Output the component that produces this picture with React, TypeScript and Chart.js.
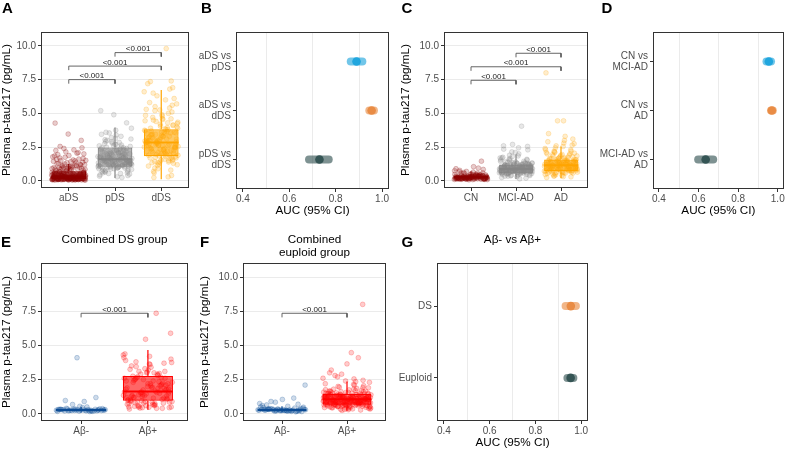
import React, { useEffect, useRef } from "react";
import { Chart, registerables } from "chart.js";
Chart.register(...registerables);

const FONT = "'Liberation Sans', Arial, Helvetica, sans-serif";

// ---------- Panel A: DS groups ----------
const dsCategories = ["aDS", "pDS", "dDS"];
const aDSValues = [0.12,0.31,0.08,0.22,0.45,0.18,0.27,0.09,0.36,0.14,0.52,0.2,0.11,0.29,0.41,0.16,0.24,0.07,0.33,0.62,0.19,0.13,0.38,0.25,0.1,0.47,0.21,0.15,0.3,0.56,0.17,0.26,0.09,0.35,0.12,0.43,0.23,0.68,0.18,0.28,0.06,0.39,0.14,0.5,0.2,0.11,0.32,0.74,0.16,0.24,0.1,0.44,0.19,0.27,0.13,0.58,0.22,0.08,0.34,0.15,0.48,0.25,0.12,0.37,0.79,0.17,0.21,0.09,0.3,0.64,0.14,0.4,0.26,0.11,0.55,0.19,0.32,0.07,0.23,0.46,0.16,0.71,0.28,0.13,0.36,0.2,0.1,0.53,0.24,0.18,0.42,0.15,0.66,0.29,0.12,0.35,0.22,0.09,0.6,0.17,0.21,0.14,0.33,0.1,0.27,0.46,0.18,0.08,0.39,0.24,0.6,0.15,0.31,0.12,0.51,0.2,0.28,0.07,0.42,0.17,0.7,0.23,0.13,0.35,0.11,0.57,0.26,0.19,0.09,0.44,0.16,0.3,0.65,0.22,0.12,0.37,0.25,0.14,0.49,0.1,0.32,0.2,0.76,0.18,0.27,0.06,0.4,0.15,0.54,0.24,0.11,0.34,0.19,0.62,0.29,0.13,0.45,0.21,0.09,0.36,0.85,0.92,1.05,0.88,1.12,0.97,1.2,0.83,1.3,1.02,0.9,1.45,1.15,0.95,1.38,1.08,1.6,0.87,1.25,1.52,1.0,1.7,1.18,0.93,1.85,1.33,1.1,2.0,1.42,1.95,1.62,2.15,1.78,2.3,1.5,2.45,1.88,2.25,2.05,2.4,0.86,1.07,0.94,1.22,1.35,0.99,1.48,1.13,1.66,0.89,1.28,2.1,1.75,0.91,1.55,2.55,3.0,3.47,4.28];
const pDSValues = [1.6,1.2,2.1,0.8,1.45,2.6,1.05,1.85,0.55,1.3,2.3,1.7,0.95,2.9,1.15,1.55,2.0,0.4,1.38,2.45,1.9,1.1,3.1,1.62,0.7,2.2,1.25,1.75,3.3,1.0,1.5,2.7,0.6,1.35,2.05,1.8,1.08,3.6,1.48,0.9,2.35,1.22,1.68,2.55,0.3,1.42,1.95,2.8,1.12,1.58,3.0,0.85,1.28,2.15,1.72,1.02,3.9,1.52,0.65,2.4,1.18,1.82,2.65,1.4,0.5,2.25,1.65,1.07,3.2,1.33,1.9,2.5,0.75,1.56,3.45,1.14,2.02,1.27,0.98,2.75,1.6,1.46,0.35,2.12,1.78,1.2,3.75,1.5,2.3,0.88,1.66,1.04,2.92,1.36,4.9,5.2,0.25,1.74,2.0,1.15,1.55,1.25,1.95,0.9,2.35,1.4,1.1,2.7,0.7,1.7,2.15,1.3,1.0,3.05,1.6,1.85,0.45,2.5,1.2,1.45,3.4,0.8,2.0,1.65,1.05,2.85,1.35,0.6,2.25,1.75,1.15,3.55,1.5,0.95,2.1,1.8,1.25,2.6,0.55,1.9,1.38,3.15,1.02,2.45,1.62,0.85,2.05,1.48,4.3,1.12];
const dDSValues = [2.8,1.9,3.5,2.2,4.1,1.4,3.0,2.6,5.2,1.7,3.3,2.45,4.6,0.9,2.95,3.8,2.1,6.1,1.55,3.15,2.7,4.4,1.2,3.6,2.35,5.6,1.85,2.88,3.95,0.6,2.5,4.8,3.25,1.65,2.75,6.6,2.05,3.45,1.3,4.2,2.9,5.0,1.75,3.1,2.3,7.35,0.4,2.65,3.7,1.95,4.5,2.55,3.35,1.1,5.4,2.85,3.9,1.6,2.4,6.9,3.05,2.15,4.3,1.45,3.55,2.6,5.8,0.8,2.98,3.75,1.8,4.7,2.25,3.2,7.2,1.5,2.7,4.0,2.0,3.4,5.1,1.25,2.82,3.65,0.25,2.45,4.9,3.0,1.9,6.3,2.55,3.85,1.35,4.15,2.35,3.5,0.3,5.5,2.9,3.3,1.7,7.4,2.1,4.45,9.8,6.5,3.6,2.0,2.6,3.3,1.95,4.25,2.4,3.7,1.5,2.95,5.3,2.2,3.05,1.8,4.6,2.75,3.55,1.15,2.5,6.0,3.2,2.05,4.05,2.85,1.4,3.45,5.7,2.3,3.9,1.7,2.65,4.85,3.1,0.7,2.45,3.6,1.9,6.8,2.9,4.35,2.15,3.4,1.6,5.25,2.55,3.8,0.95,2.7,4.55,3.0,2.25,1.35];
const dsQ1 = [0.12, 1.04, 1.83];
const dsMedian = [0.33, 1.6, 2.85];
const dsQ3 = [0.72, 2.48, 3.82];
const dsWhiskerLow = [0.03, 0.22, 0.13];
const dsWhiskerHigh = [1.25, 3.96, 6.73];
const dsBrackets = [[1, 2, 7.5], [1, 3, 8.5], [2, 3, 9.5]];

// ---------- Panel C: euploid groups ----------
const euCategories = ["CN", "MCI-AD", "AD"];
const cnValues = [0.25,0.18,0.32,0.12,0.4,0.22,0.28,0.15,0.35,0.2,0.1,0.3,0.45,0.24,0.17,0.38,0.27,0.13,0.5,0.21,0.33,0.16,0.26,0.42,0.19,0.29,0.08,0.36,0.23,0.55,0.14,0.31,0.2,0.47,0.25,0.11,0.34,0.18,0.6,0.28,0.22,0.39,0.15,0.3,0.65,0.24,0.12,0.37,0.19,0.44,0.27,0.16,0.52,0.21,0.33,0.7,0.26,0.13,0.41,0.23,0.3,0.17,0.58,0.25,0.2,0.35,0.78,0.29,0.14,0.48,0.22,0.32,0.85,0.18,0.27,0.95,0.24,0.36,1.05,0.2,1.46,0.31,0.9,0.26,0.62,0.2,0.27,0.15,0.33,0.23,0.1,0.29,0.18,0.4,0.25,0.14,0.31,0.21,0.45,0.26,0.12,0.35,0.19,0.28,0.5,0.22,0.16,0.3,0.24,0.38,0.13,0.27,0.2,0.56,0.32,0.17,0.25,0.42,0.23,0.11,0.29,0.68,0.21,0.34,0.75];
const mciValues = [0.9,0.7,1.1,0.55,1.3,0.85,0.62,1.0,1.5,0.78,0.45,1.2,0.95,0.68,1.7,0.88,0.35,1.05,1.4,0.75,0.58,1.15,0.92,2.0,0.8,0.5,1.25,0.98,0.65,1.6,0.87,0.3,1.08,1.35,0.72,0.6,1.18,0.94,2.3,0.82,0.48,1.28,1.02,0.7,1.85,0.9,0.2,1.12,1.45,0.76,0.56,1.22,0.97,2.6,0.84,0.42,1.32,1.0,0.66,1.55,0.89,0.25,1.06,1.9,0.74,0.63,1.16,0.93,2.7,0.81,0.52,1.38,0.99,0.69,1.75,0.86,0.38,1.1,2.45,0.79,0.61,1.24,0.96,4.05,0.83,0.46,1.3,1.04,0.71,2.15,0.91,0.15,1.14,2.55,0.77,0.57,1.2,1.65,0.95,0.6,1.15,0.8,1.35,0.7,1.05,0.5,1.25,0.88,0.65,1.45,0.92,0.55,1.1,0.76,1.6,0.98,0.62,1.2,0.84,0.4,1.3,1.0,0.72,1.8,0.9,0.58,1.14,0.8,2.1,0.96,0.68,1.26,0.86,0.45,1.4,1.02,0.74,1.55,0.94,0.6,1.18,0.82,2.35,1.06,0.7,1.32,0.88,0.52,1.22,0.78,1.7,1.0,0.64,1.12,0.9,0.35,1.28,0.98];
const adValues = [1.2,0.9,1.5,0.7,1.8,1.05,0.8,1.35,2.1,0.95,0.6,1.6,1.15,0.85,2.4,1.25,0.5,1.4,1.9,1.0,0.75,1.55,1.1,2.8,1.3,0.65,1.7,1.18,0.88,2.2,1.45,0.4,1.28,2.0,0.98,0.72,1.62,1.12,3.1,1.22,0.55,1.75,1.38,0.82,2.55,1.08,0.3,1.48,2.3,0.92,0.78,1.58,1.16,3.5,1.26,0.62,1.85,1.02,0.86,2.65,1.33,0.25,1.52,2.15,0.96,0.68,1.66,1.14,4.45,1.24,0.58,1.95,1.42,0.9,2.9,1.06,0.45,1.56,4.45,1.0,0.74,1.68,8.0,1.2,0.35,2.05,1.3,1.1,0.85,1.45,0.65,1.7,1.0,0.78,1.3,2.0,0.9,0.55,1.55,1.2,0.8,2.3,1.15,0.48,1.35,1.85,0.95,0.7,1.5,1.05,2.6,1.25,0.6,1.65,1.12,0.85,2.1,1.4,0.38,1.22,1.95,0.92,0.75,1.6,1.08,3.3,1.18,0.58,1.8,1.32,0.82,2.45,1.02,0.32,1.42,2.2,0.88,0.72,1.52,1.14,2.75,1.28,0.66,1.9,0.98,0.8,3.0];
const euQ1 = [0.17, 0.55, 0.72];
const euMedian = [0.27, 0.88, 1.16];
const euQ3 = [0.38, 1.22, 1.58];
const euWhiskerLow = [0.05, 0.15, 0.2];
const euWhiskerHigh = [0.7, 1.96, 2.55];
const euBrackets = [[1, 2, 7.45], [1, 3, 8.45], [2, 3, 9.45]];

// ---------- Panels E, F: amyloid status ----------
const abCategories = ["Aβ-", "Aβ+"];
const dsAbNegValues = [0.25,0.3,0.22,0.35,0.28,0.2,0.32,0.26,0.24,0.38,0.29,0.21,0.33,0.27,0.18,0.31,0.23,0.36,0.26,0.3,0.19,0.34,0.28,0.25,0.4,0.22,0.29,0.32,0.17,0.27,0.24,0.45,0.3,0.21,0.35,0.26,0.5,0.23,0.28,0.55,0.33,0.2,0.68,0.27,0.9,0.97,1.19,4.1,0.31,0.25];
const dsAbPosValues = [1.6,0.9,2.4,1.2,3.1,0.6,1.9,2.8,1.4,0.45,2.2,3.5,1.05,1.75,2.6,0.75,3.8,1.3,2.0,0.5,2.95,1.55,4.0,0.85,2.3,1.15,3.3,1.8,0.4,2.7,1.45,3.65,0.95,2.1,1.25,4.3,0.65,2.5,1.7,3.0,1.0,2.85,0.55,1.95,3.4,1.35,2.25,0.8,4.38,1.65,2.65,1.1,3.2,0.35,2.05,1.5,3.75,0.7,2.45,1.85,5.45,1.2,2.9,0.5,1.6,3.6,0.9,2.15,1.4,4.1,0.6,2.55,1.78,3.05,1.02,2.35,0.42,5.89,1.9,2.75,0.78,1.32,3.9,7.35,0.88,2.2,0.48,3.25,1.7,0.95,2.3,1.15,0.55,2.6,1.45,0.7,1.85,3.1,0.85,2.05,1.3,0.4,2.5,1.6,0.65,3.45,1.05,2.2,0.75,1.5,2.9,0.5,1.95,1.2,3.7,0.9,2.4,1.55,0.6,1.8,4.2,1.0,2.65,0.45,1.35,3.0,0.8,2.1];
const dsAbQ1 = [0.22, 0.95];
const dsAbMedian = [0.28, 1.63];
const dsAbQ3 = [0.34, 2.77];
const dsAbWhiskerLow = [0.1, 0.29];
const dsAbWhiskerHigh = [0.5, 4.67];
const dsAbBrackets = [[1, 2, 7.35]];

const euAbNegValues = [0.25,0.3,0.2,0.35,0.28,0.22,0.32,0.18,0.27,0.4,0.24,0.3,0.15,0.33,0.26,0.21,0.37,0.29,0.23,0.45,0.27,0.19,0.31,0.25,0.34,0.2,0.28,0.5,0.24,0.36,0.17,0.3,0.26,0.42,0.22,0.29,0.55,0.33,0.21,0.27,0.6,0.24,0.31,0.48,0.26,0.65,0.2,0.35,0.75,0.28,0.9,0.38,1.05,0.3,1.15,0.85,2.1,0.23,0.32,0.7];
const euAbPosValues = [1.0,0.8,1.3,0.6,1.6,0.9,1.15,0.7,2.0,1.05,0.5,1.4,0.85,1.2,0.65,1.8,0.95,1.1,0.4,1.5,0.75,1.25,2.3,0.88,1.02,0.55,1.35,0.72,1.7,0.98,1.18,0.3,1.45,0.82,1.08,2.6,0.68,1.28,0.92,1.55,0.58,1.12,0.78,1.9,1.0,0.45,1.38,0.86,1.22,2.1,0.62,1.05,0.94,1.65,0.7,1.3,0.35,1.48,0.8,2.45,1.15,0.9,1.42,0.52,1.0,1.75,0.76,1.24,0.25,1.58,0.96,2.8,1.1,0.66,1.33,0.84,1.95,1.04,0.48,1.52,0.74,1.2,2.2,0.9,1.36,0.6,1.08,3.0,0.82,1.62,0.42,1.26,0.98,2.05,0.7,1.14,1.85,0.56,1.44,0.88,3.2,1.0,0.64,1.3,2.55,0.8,1.12,3.65,0.94,4.1,1.4,0.5,4.47,1.06,8.0,0.72,1.5,2.35,0.86,1.18,0.38,1.68,0.96,2.9,0.92,1.22,0.68,1.45,0.58,1.05,0.82,1.32,0.4,1.16,0.99,1.7,0.62,1.27,0.86,1.53,0.47,1.09,0.77,1.37,0.33,1.19,0.93,1.8,0.66,1.01,0.84,1.41,0.54,1.13,0.73,1.61,0.28,1.23,0.97,2.15,0.69,1.06,0.87,1.47,0.59,1.17,0.79,1.29,0.44,1.03,0.91,1.76,0.63,1.34,0.81,1.56,0.51,1.11,0.75,1.39,0.36,1.21,0.95,2.4,0.67,1.07,0.89,1.49,0.57,1.15,0.71,1.26,0.46,1.0,0.83,1.66,0.61,1.31,0.78,1.43,0.53,1.09,0.74,1.92,0.32,1.2,0.96,2.7,0.6,1.04,0.85,1.5,0.55,1.17];
const euAbQ1 = [0.21, 0.66];
const euAbMedian = [0.27, 1.07];
const euAbQ3 = [0.34, 1.44];
const euAbWhiskerLow = [0.1, 0.24];
const euAbWhiskerHigh = [0.55, 2.36];
const euAbBrackets = [[1, 2, 7.35]];

const pLabel = "<0.001";
const ptauTicks = [0, 2.5, 5, 7.5, 10];
const ptauTickLabels = ["0.0", "2.5", "5.0", "7.5", "10.0"];

// ---------- Panels B, D, G: AUC ----------
const dsComparisons = [["aDS vs", "pDS"], ["aDS vs", "dDS"], ["pDS vs", "dDS"]];
const dsAuc = [0.89, 0.955, 0.73];
const dsAucLow = [0.865, 0.945, 0.685];
const dsAucHigh = [0.915, 0.965, 0.77];

const euComparisons = [["CN vs", "MCI-AD"], ["CN vs", "AD"], ["MCI-AD vs", "AD"]];
const euAuc = [0.955, 0.97, 0.636];
const euAucLow = [0.943, 0.966, 0.598];
const euAucHigh = [0.966, 0.975, 0.674];

const abComparisons = ["DS", "Euploid"];
const abAuc = [0.955, 0.954];
const abAucLow = [0.932, 0.94];
const abAucHigh = [0.977, 0.966];

const aucTicks = [0.4, 0.6, 0.8, 1.0];
const aucTickLabels = ["0.4", "0.6", "0.8", "1.0"];
const aucMinorGrid = [0.5, 0.7, 0.9];

// ---------- styles ----------
const C_DARKRED = "#8B0000";
const C_GRAY = "#858585";
const C_ORANGE = "#FFA500";
const C_BLUE = "#0A4A94";
const C_RED = "#FF0000";
const F_BLUE = "#1AA3DC";
const F_ORANGE = "#E8893F";
const F_DARK = "#2F4F4F";
const TICK_COL = "#4D4D4D";
const FRAME_COL = "#333333";
const GRID_COL = "#EBEBEB";

const rgba = (hex: string, a: number) => {
  const n = parseInt(hex.slice(1), 16);
  return `rgba(${(n >> 16) & 255},${(n >> 8) & 255},${n & 255},${a})`;
};
// deterministic horizontal jitter (layout only)
const jit = (i: number) => ((i * 0.6180339887 + 0.37) % 1) * 2 - 1;

function makePlugin(opts: { minor?: number[]; texts?: { x: number; y: number; t: string }[] }) {
  return {
    id: "decor",
    beforeDatasetsDraw(chart: any) {
      if (!opts.minor) return;
      const { ctx, chartArea } = chart;
      const xs = chart.scales.x;
      ctx.save();
      ctx.strokeStyle = GRID_COL;
      ctx.lineWidth = 1;
      for (const v of opts.minor) {
        const px = Math.round(xs.getPixelForValue(v)) + 0.5;
        ctx.beginPath();
        ctx.moveTo(px, chartArea.top);
        ctx.lineTo(px, chartArea.bottom);
        ctx.stroke();
      }
      ctx.restore();
    },
    afterDatasetsDraw(chart: any) {
      const { ctx, chartArea } = chart;
      ctx.save();
      if (opts.texts) {
        ctx.fillStyle = "#222";
        ctx.font = `8px ${FONT}`;
        ctx.textAlign = "center";
        ctx.textBaseline = "alphabetic";
        for (const t of opts.texts) {
          ctx.fillText(t.t, chart.scales.x.getPixelForValue(t.x), chart.scales.y.getPixelForValue(t.y) - 1.3);
        }
      }
      ctx.strokeStyle = FRAME_COL;
      ctx.lineWidth = 1;
      const l = Math.round(chartArea.left), tp = Math.round(chartArea.top);
      const r = Math.round(chartArea.right), b = Math.round(chartArea.bottom);
      ctx.strokeRect(l + 0.5, tp + 0.5, r - l - 1, b - tp - 1);
      ctx.restore();
    },
  };
}

type Lay = { l: number; t: number; r: number; b: number; yW: number; xH: number };

const tickFont = { family: FONT, size: 10 };
const titleFont = { family: FONT, size: 11.7 };

function boxConfig(
  labels: string[], groups: number[][], colors: string[],
  q1: number[], med: number[], q3: number[], lo: number[], hi: number[],
  brackets: number[][], lay: Lay
): any {
  const datasets: any[] = [];
  groups.forEach((vals, g) => {
    datasets.push({
      type: "scatter", order: 10,
      data: vals.map((v, i) => ({ x: g + 1 + jit(i) * 0.37, y: v })),
      pointRadius: 2.4, pointBorderWidth: 0.7,
      backgroundColor: rgba(colors[g], 0.2), borderColor: rgba(colors[g], 0.32),
    });
  });
  datasets.push({
    type: "bar", order: 5,
    data: q1.map((q, i) => ({ x: i + 1, y: [q, q3[i]] })),
    backgroundColor: colors.map((c) => rgba(c, 0.6)),
    borderColor: colors, borderWidth: 1.2, borderSkipped: false,
    barPercentage: 0.75, categoryPercentage: 1,
  });
  const line = (pts: any[], col: string, w: number) => ({
    type: "scatter", order: 1, showLine: true, data: pts,
    borderColor: col, borderWidth: w, pointRadius: 0, backgroundColor: col,
  });
  med.forEach((m, i) => {
    datasets.push(line([{ x: i + 1 - 0.375, y: m }, { x: i + 1 + 0.375, y: m }], colors[i], 2));
    datasets.push(line([{ x: i + 1, y: q3[i] }, { x: i + 1, y: hi[i] }], colors[i], 1.2));
    datasets.push(line([{ x: i + 1, y: lo[i] }, { x: i + 1, y: q1[i] }], colors[i], 1.2));
  });
  brackets.forEach(([a, b, lev]) => {
    datasets.push(line([{ x: a, y: lev - 0.3 }, { x: a, y: lev }, { x: b, y: lev }, { x: b, y: lev - 0.3 }], "#555", 0.9));
  });
  const texts = brackets.map(([a, b, lev]) => ({ x: (a + b) / 2, y: lev, t: pLabel }));
  return {
    type: "scatter",
    data: { datasets },
    plugins: [makePlugin({ texts })],
    options: {
      responsive: false, animation: false, events: [], devicePixelRatio: 1,
      layout: { padding: { left: lay.l, top: lay.t, right: lay.r, bottom: lay.b } },
      plugins: { legend: { display: false }, tooltip: { enabled: false } },
      scales: {
        x: {
          type: "linear", min: 0.4, max: labels.length + 0.6, offset: false,
          afterBuildTicks: (s: any) => { s.ticks = labels.map((_, i) => ({ value: i + 1 })); },
          afterFit: (s: any) => { s.height = lay.xH; },
          ticks: { callback: (v: number) => labels[Math.round(v) - 1], color: TICK_COL, font: tickFont, padding: 1, autoSkip: false, maxRotation: 0 },
          grid: { drawOnChartArea: false, drawTicks: true, tickLength: 3, tickColor: FRAME_COL, tickWidth: 1, offset: false },
          border: { display: false },
        },
        y: {
          type: "linear", min: -0.525, max: 11.025,
          afterBuildTicks: (s: any) => { s.ticks = ptauTicks.map((v) => ({ value: v })); },
          afterFit: (s: any) => { s.width = lay.yW; },
          ticks: { callback: (v: number) => ptauTickLabels[ptauTicks.indexOf(v)], color: TICK_COL, font: tickFont, padding: 2 },
          grid: { color: GRID_COL, lineWidth: 1, drawTicks: true, tickLength: 3, tickColor: FRAME_COL, tickWidth: 1 },
          border: { display: false },
          title: { display: true, text: "Plasma p-tau217 (pg/mL)", color: "#000", font: titleFont, padding: 0 },
        },
      },
    },
  };
}

function forestConfig(
  labels: (string | string[])[], auc: number[], low: number[], high: number[], colors: string[], lay: Lay
): any {
  const datasets: any[] = [];
  auc.forEach((a, i) => {
    datasets.push({
      type: "scatter", order: 2, showLine: true,
      data: [{ x: low[i], y: i + 1 }, { x: high[i], y: i + 1 }],
      borderColor: rgba(colors[i], 0.62), borderWidth: 8, borderCapStyle: "round", pointRadius: 0,
    });
    datasets.push({
      type: "scatter", order: 1,
      data: [{ x: a, y: i + 1 }],
      pointRadius: 4.3, pointBorderWidth: 0, backgroundColor: rgba(colors[i], 0.92),
    });
  });
  return {
    type: "scatter",
    data: { datasets },
    plugins: [makePlugin({ minor: aucMinorGrid })],
    options: {
      responsive: false, animation: false, events: [], devicePixelRatio: 1,
      layout: { padding: { left: lay.l, top: lay.t, right: lay.r, bottom: lay.b } },
      plugins: { legend: { display: false }, tooltip: { enabled: false } },
      scales: {
        x: {
          type: "linear", min: 0.37, max: 1.03,
          afterBuildTicks: (s: any) => { s.ticks = aucTicks.map((v) => ({ value: v })); },
          afterFit: (s: any) => { s.height = lay.xH; },
          ticks: { callback: (v: number) => aucTickLabels[aucTicks.indexOf(v)], color: TICK_COL, font: tickFont, padding: 1, autoSkip: false, maxRotation: 0 },
          grid: { drawOnChartArea: false, drawTicks: true, tickLength: 3, tickColor: FRAME_COL, tickWidth: 1 },
          border: { display: false },
          title: { display: true, text: "AUC (95% CI)", color: "#000", font: titleFont, padding: 0 },
        },
        y: {
          type: "linear", min: 0.4, max: labels.length + 0.6, reverse: true,
          afterBuildTicks: (s: any) => { s.ticks = labels.map((_, i) => ({ value: i + 1 })); },
          afterFit: (s: any) => { s.width = lay.yW; },
          ticks: { callback: (v: number) => labels[Math.round(v) - 1], color: TICK_COL, font: { family: FONT, size: 10, lineHeight: 1.1 }, padding: 2, autoSkip: false },
          grid: { drawOnChartArea: false, drawTicks: true, tickLength: 3, tickColor: FRAME_COL, tickWidth: 1 },
          border: { display: false },
        },
      },
    },
  };
}

function Panel({ x, y, w, h, make }: { x: number; y: number; w: number; h: number; make: () => any }) {
  const ref = useRef<HTMLCanvasElement>(null);
  useEffect(() => {
    const chart = new Chart(ref.current as HTMLCanvasElement, make());
    return () => chart.destroy();
  }, []);
  return (
    <div style={{ position: "absolute", left: x, top: y, width: w, height: h }}>
      <canvas ref={ref} width={w} height={h} style={{ width: w, height: h, display: "block" }} />
    </div>
  );
}

const letterStyle = (x: number, y: number): React.CSSProperties => ({
  position: "absolute", left: x, top: y, fontFamily: FONT, fontWeight: 700, fontSize: 15, lineHeight: "15px", color: "#000",
});
const titleStyle = (x: number, w: number): React.CSSProperties => ({
  position: "absolute", left: x, top: 232, width: w, textAlign: "center", fontFamily: FONT, fontSize: 11.7, lineHeight: "13.4px", color: "#000",
});

export default function App() {
  return (
    <div style={{ position: "absolute", left: 0, top: 0, width: 788, height: 452, background: "#fff", overflow: "hidden" }}>
      <Panel x={0} y={0} w={195} h={225} make={() => boxConfig(dsCategories, [aDSValues, pDSValues, dDSValues], [C_DARKRED, C_GRAY, C_ORANGE], dsQ1, dsMedian, dsQ3, dsWhiskerLow, dsWhiskerHigh, dsBrackets, { l: 0, t: 32, r: 6, b: 17, yW: 41, xH: 20 })} />
      <Panel x={195} y={0} w={200} h={225} make={() => forestConfig(dsComparisons, dsAuc, dsAucLow, dsAucHigh, [F_BLUE, F_ORANGE, F_DARK], { l: 0, t: 32, r: 6, b: 7, yW: 41, xH: 29 })} />
      <Panel x={390} y={0} w={205} h={225} make={() => boxConfig(euCategories, [cnValues, mciValues, adValues], [C_DARKRED, C_GRAY, C_ORANGE], euQ1, euMedian, euQ3, euWhiskerLow, euWhiskerHigh, euBrackets, { l: 9, t: 32, r: 7, b: 17, yW: 45, xH: 20 })} />
      <Panel x={595} y={0} w={193} h={225} make={() => forestConfig(euComparisons, euAuc, euAucLow, euAucHigh, [F_BLUE, F_ORANGE, F_DARK], { l: 0, t: 32, r: 1, b: 7, yW: 58, xH: 29 })} />
      <Panel x={0} y={225} w={195} h={227} make={() => boxConfig(abCategories, [dsAbNegValues, dsAbPosValues], [C_BLUE, C_RED], dsAbQ1, dsAbMedian, dsAbQ3, dsAbWhiskerLow, dsAbWhiskerHigh, dsAbBrackets, { l: 0, t: 38, r: 7, b: 11, yW: 41, xH: 20 })} />
      <Panel x={195} y={225} w={200} h={227} make={() => boxConfig(abCategories, [euAbNegValues, euAbPosValues], [C_BLUE, C_RED], euAbQ1, euAbMedian, euAbQ3, euAbWhiskerLow, euAbWhiskerHigh, euAbBrackets, { l: 3, t: 38, r: 9, b: 11, yW: 45, xH: 20 })} />
      <Panel x={390} y={225} w={205} h={227} make={() => forestConfig(abComparisons, abAuc, abAucLow, abAucHigh, [F_ORANGE, F_DARK], { l: 0, t: 38, r: 7, b: 2, yW: 47, xH: 29 })} />

      <div style={letterStyle(2, 0)}>A</div>
      <div style={letterStyle(201, 0)}>B</div>
      <div style={letterStyle(401.5, 0)}>C</div>
      <div style={letterStyle(601.5, 0)}>D</div>
      <div style={letterStyle(1, 234)}>E</div>
      <div style={letterStyle(200, 234)}>F</div>
      <div style={letterStyle(401.5, 234)}>G</div>

      <div style={titleStyle(41, 147)}>Combined DS group</div>
      <div style={titleStyle(243, 143)}>Combined<br />euploid group</div>
      <div style={titleStyle(437, 151)}>Aβ- vs Aβ+</div>
    </div>
  );
}
